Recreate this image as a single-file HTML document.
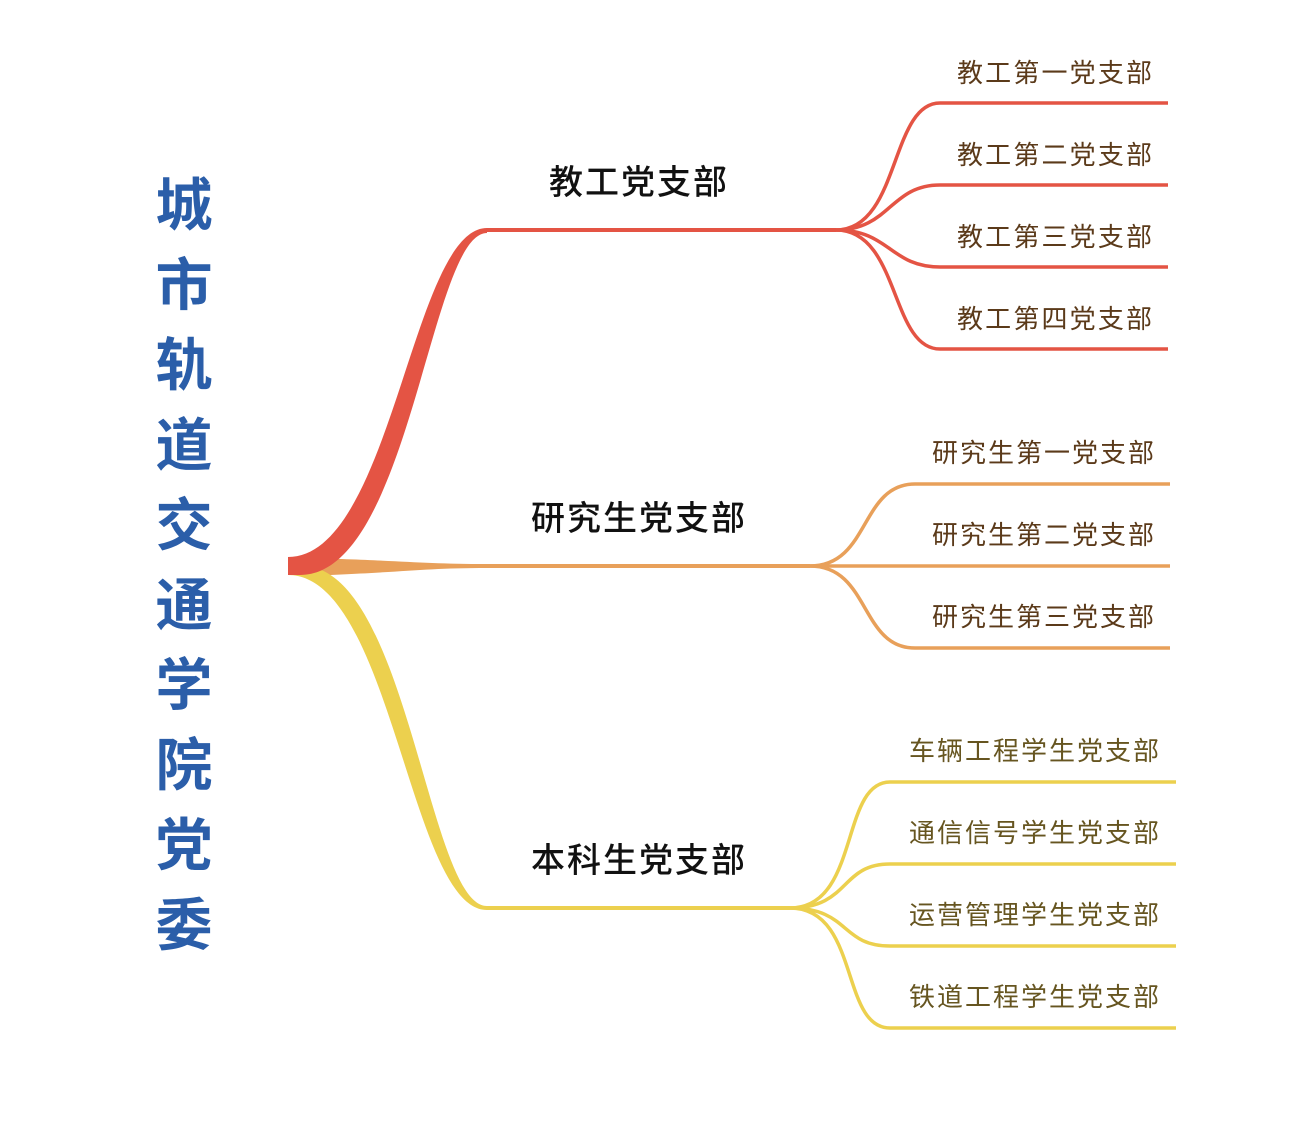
<!DOCTYPE html>
<html><head><meta charset="utf-8"><style>
html,body{margin:0;padding:0;background:#fff;}
svg{display:block;}
text{font-family:"Liberation Sans","Noto Sans CJK SC",sans-serif;}
.br{font-family:"Noto Sans CJK SC",sans-serif;}
</style></head><body>
<svg width="1314" height="1130" viewBox="0 0 1314 1130" xmlns="http://www.w3.org/2000/svg">
<g fill="#2b5ea9" font-size="57" font-weight="bold" text-anchor="middle">
<text x="184" y="225">城</text>
<text x="184" y="305">市</text>
<text x="184" y="385">轨</text>
<text x="184" y="465">道</text>
<text x="184" y="545">交</text>
<text x="184" y="625">通</text>
<text x="184" y="705">学</text>
<text x="184" y="785">院</text>
<text x="184" y="865">党</text>
<text x="184" y="945">委</text>
</g>
<path d="M300,558 C400,560 420,564 487,564 L487,568 C420,568 400,573 300,576 Z" fill="#e8a05a"/>
<path d="M302,566 C408,566 428,906 487,906 L487,910 C410,910 392,575 288,575 Z" fill="#ecd04e"/>
<path d="M288,557 C392,557 412,228 487,228 L487,233 C430,233 410,575 300,575 L288,575 Z" fill="#e45444"/>
<g fill="none" stroke-width="4">
<path d="M487,230 H836" stroke="#e45444"/>
<path d="M487,566 H810" stroke="#e8a05a"/>
<path d="M487,908 H790" stroke="#ecd04e"/>
</g>
<g fill="none" stroke-width="3.5" stroke="#e45444">
<path d="M836,230 C900,230 890,103 940,103 H1168"/>
<path d="M836,230 C890,230 890,185 940,185 H1168"/>
<path d="M836,230 C890,230 890,267 940,267 H1168"/>
<path d="M836,230 C900,230 890,349 940,349 H1168"/>
</g>
<g fill="none" stroke-width="3.5" stroke="#e8a05a">
<path d="M810,566 C870,566 860,484 915,484 H1170"/>
<path d="M810,566 H1170"/>
<path d="M810,566 C870,566 860,648 915,648 H1170"/>
</g>
<g fill="none" stroke-width="3.5" stroke="#ecd04e">
<path d="M790,908 C860,908 840,782 890,782 H1176"/>
<path d="M790,908 C850,908 840,864 890,864 H1176"/>
<path d="M790,908 C850,908 840,946 890,946 H1176"/>
<path d="M790,908 C860,908 840,1028 890,1028 H1176"/>
</g>
<g class="br" fill="#111" font-size="34" font-weight="500" text-anchor="middle">
<text x="638" y="194" textLength="178">教工党支部</text>
<text x="638" y="530" textLength="214">研究生党支部</text>
<text x="638" y="872" textLength="214">本科生党支部</text>
</g>
<g fill="#5b3a1a" font-size="26" text-anchor="end">
<text x="1152" y="82" textLength="195">教工第一党支部</text>
<text x="1152" y="164" textLength="195">教工第二党支部</text>
<text x="1152" y="246" textLength="195">教工第三党支部</text>
<text x="1152" y="328" textLength="195">教工第四党支部</text>
<text x="1154" y="462" textLength="222">研究生第一党支部</text>
<text x="1154" y="544" textLength="222">研究生第二党支部</text>
<text x="1154" y="626" textLength="222">研究生第三党支部</text>
</g>
<g fill="#665520" font-size="26" text-anchor="end">
<text x="1159" y="760" textLength="250">车辆工程学生党支部</text>
<text x="1159" y="842" textLength="250">通信信号学生党支部</text>
<text x="1159" y="924" textLength="250">运营管理学生党支部</text>
<text x="1159" y="1006" textLength="250">铁道工程学生党支部</text>
</g>
</svg>
</body></html>
